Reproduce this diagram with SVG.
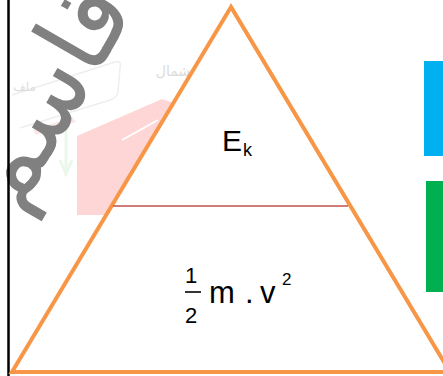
<svg xmlns="http://www.w3.org/2000/svg" width="443" height="376" viewBox="0 0 443 376">
<style>
.lbl{font-family:"Liberation Sans",Arial,sans-serif;fill:#000}
.wm{font-family:"Noto Sans","DejaVu Sans",sans-serif;fill:#808080}
.faint{font-family:"Noto Sans","DejaVu Sans",sans-serif;fill:#dcdcdc}
</style>
<rect width="443" height="376" fill="#fff"/>
<g id="background">
  <path d="M12,95 L115,62 Q122,60 120,68 L118,92 Q117,98 110,100 L20,128" fill="none" stroke="#eeeeee" stroke-width="1.5"/>
  <polygon points="33,130 72,117 76,122 36,135" fill="#fde6e6"/>
  <polygon points="77,136 162,99 200,112 200,215 77,215" fill="#ffd6d6"/>
  <line x1="122" y1="140" x2="158" y2="120" stroke="#ffffff" stroke-width="2"/>
  <line x1="66" y1="122" x2="66" y2="172" stroke="#eaf8ea" stroke-width="3"/>
  <polyline points="60,160 66,174 72,160" fill="none" stroke="#eaf8ea" stroke-width="3"/>
  <text class="faint" x="190" y="76" font-size="14" text-anchor="end">شمال</text>
  <text class="faint" x="36" y="91" font-size="12" text-anchor="end">ملف</text>
</g>
<g id="watermark">
  <text class="wm" x="0" y="0" font-size="104" text-anchor="middle" transform="translate(76,112) rotate(-60)">قاسم</text>
</g>
<g id="left-border">
  <line x1="8.5" y1="0" x2="8.5" y2="376" stroke="#000" stroke-width="2.5"/>
</g>
<g id="side-bars">
  <rect id="blue-bar" x="424" y="61" width="19" height="95" fill="#00b0f0"/>
  <rect id="green-bar" x="426" y="181" width="17" height="111" fill="#00b050"/>
</g>
<g id="triangle">
  <polygon points="231,7 12,372 450,372" fill="#fff" stroke="#f79646" stroke-width="4" stroke-linejoin="miter"/>
</g>
<g id="connectors">
  <line x1="113" y1="206" x2="348" y2="206" stroke="#c0504d" stroke-width="1.5"/>
</g>
<g id="node-ek">
  <text class="lbl" x="222" y="151" font-size="30">E</text>
  <text class="lbl" x="243" y="156" font-size="18">k</text>
</g>
<g id="node-formula">
  <text class="lbl" x="191" y="283" font-size="22" text-anchor="middle">1</text>
  <line x1="185" y1="292" x2="201" y2="292" stroke="#000" stroke-width="1.6"/>
  <text class="lbl" x="191" y="323" font-size="22" text-anchor="middle">2</text>
  <text class="lbl" x="209" y="303" font-size="31">m</text>
  <text class="lbl" x="245" y="303" font-size="31">.</text>
  <text class="lbl" x="260" y="303" font-size="31">v</text>
  <text class="lbl" x="282" y="285" font-size="17">2</text>
</g>
</svg>
